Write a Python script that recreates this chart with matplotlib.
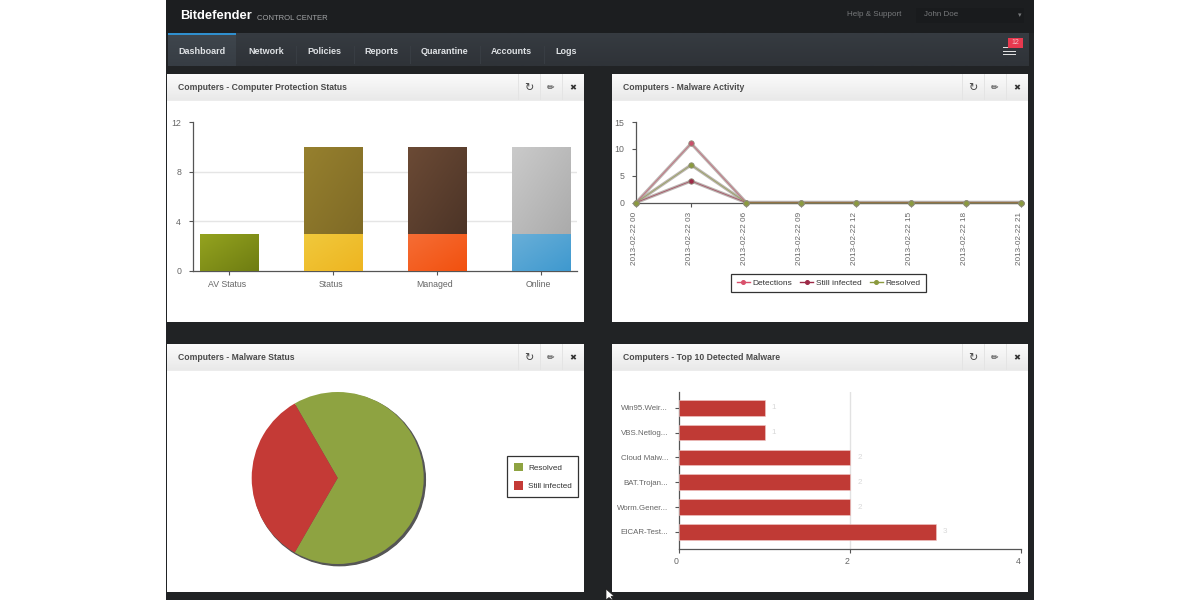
import numpy as np
import matplotlib
matplotlib.use("Agg")
import matplotlib.pyplot as plt
from matplotlib.patches import Rectangle, Polygon
from matplotlib.lines import Line2D
from matplotlib.transforms import ScaledTranslation

plt.rcParams['font.family'] = ['Liberation Sans', 'DejaVu Sans']

# ---- data ----
nav_items = ["Dashboard", "Network", "Policies", "Reports", "Quarantine", "Accounts", "Logs"]
panel_titles = ["Computers - Computer Protection Status", "Computers - Malware Activity",
                "Computers - Malware Status", "Computers - Top 10 Detected Malware"]

status_cats = ["AV Status", "Status", "Managed", "Online"]
status_lower = [3, 3, 3, 3]
status_upper = [0, 7, 7, 7]

time_labels = ["2013-02-22 00", "2013-02-22 03", "2013-02-22 06", "2013-02-22 09",
               "2013-02-22 12", "2013-02-22 15", "2013-02-22 18", "2013-02-22 21"]
detections = [0, 11, 0, 0, 0, 0, 0, 0]
still_infected = [0, 4, 0, 0, 0, 0, 0, 0]
resolved = [0, 7, 0, 0, 0, 0, 0, 0]

pie_labels = ["Resolved", "Still infected"]
pie_values = [2, 1]

malware_names = ["Win95.Weir...", "VBS.Netlog...", "Cloud Malw...", "BAT.Trojan...", "Worm.Gener...", "EICAR-Test..."]
malware_counts = [1, 1, 2, 2, 2, 3]

W, H = 1200, 600
fig = plt.figure(figsize=(12, 6), dpi=100, facecolor="white")

bg = fig.add_axes([0, 0, 1, 1], zorder=0)
bg.set_axis_off()


def rect(x0, y0, x1, y1, color, z=1, **kw):
    bg.add_patch(Rectangle((x0, y0), x1 - x0, y1 - y0, facecolor=color, edgecolor="none", zorder=z, **kw))


def vgrad(x0, y0, x1, y1, c_top, c_bot, z=2):
    a, b = np.array(matplotlib.colors.to_rgb(c_top)), np.array(matplotlib.colors.to_rgb(c_bot))
    t = np.linspace(0, 1, 32)[:, None, None]
    bg.imshow(a[None, None, :] * (1 - t) + b[None, None, :] * t, extent=(x0, x1, y1, y0),
              aspect="auto", zorder=z, interpolation="bilinear")


def axes_px(x0, y0, x1, y1):
    ax = fig.add_axes([x0 / W, 1 - y1 / H, (x1 - x0) / W, (y1 - y0) / H], zorder=5)
    ax.patch.set_alpha(0)
    return ax


def shift(labels, dx=0, dy=0):
    off = ScaledTranslation(dx / 100, dy / 100, fig.dpi_scale_trans)
    for l in labels:
        l.set_transform(l.get_transform() + off)


def diag_fill(ax, bar, c1, c2):
    x, y = bar.get_xy()
    w, h = bar.get_width(), bar.get_height()
    if h == 0:
        return
    a, b = np.array(matplotlib.colors.to_rgb(c1)), np.array(matplotlib.colors.to_rgb(c2))
    u, v = np.meshgrid(np.linspace(0, 1, 32), np.linspace(0, 1, 32))
    t = ((u + v) / 2)[..., None]
    im = ax.imshow(a * (1 - t) + b * t, extent=(x, x + w, y, y + h), origin="upper",
                   aspect="auto", zorder=bar.get_zorder() + 0.1, interpolation="bilinear")
    im.set_clip_path(bar)


# ---- page chrome ----
rect(166, 0, 1034, 600, "#212325", z=1)
rect(166, 0, 1034, 33, "#1c1e20", z=1.1)
vgrad(168, 33, 1029, 66, "#363b41", "#2f3338", z=2)
vgrad(168, 34, 236, 66, "#3f464d", "#373d44", z=2.1)
rect(168, 33, 236, 35, "#2f8fce", z=3)

bg.text(180, 16, "Bitdefender", color="white", fontsize=9.3, fontweight="bold", va="center", zorder=4)
bg.text(256.7, 18, "CONTROL CENTER", color="#a4a6a8", fontsize=5.5, va="center", zorder=4)
bg.text(847, 15, "Help & Support", color="#77797b", fontsize=5.8, va="center", zorder=4)
rect(916, 8, 1024, 23, "#191b1d", z=2)
bg.text(924, 15, "John Doe", color="#77797b", fontsize=5.8, va="center", zorder=4)
bg.text(1020, 15.5, "▾", color="#77797b", fontsize=5, va="center", ha="center", zorder=4)

nav_x = [178.5, 248, 307, 364, 421, 491, 555]
for name, x in zip(nav_items, nav_x):
    bg.text(x, 51, name, color="#dfe2e5", fontsize=6.5, fontweight="bold", va="center", zorder=4)
for x in (296, 354, 410, 480, 544):
    rect(x, 46, x + 1, 64, "#383d43", z=3)

for y in (47, 50.5, 54):
    rect(1003, y, 1016, y + 1.2, "#e0e0e0", z=4)
rect(1008, 38, 1023, 47.5, "#e8394f", z=5)
bg.text(1015.5, 43, "12", color="#f4c0c6", fontsize=5, ha="center", va="center", zorder=6)

panels = [(167, 74, 584, 322), (612, 74, 1028, 322), (167, 344, 584, 592), (612, 344, 1028, 592)]
for (x0, y0, x1, y1), title in zip(panels, panel_titles):
    rect(x0, y0, x1, y1, "white", z=2)
    vgrad(x0, y0, x1, y0 + 26, "#fbfbfb", "#e9e9e9", z=3)
    rect(x0, y0 + 26, x1, y0 + 27, "#ececec", z=3)
    bg.text(x0 + 10.7, y0 + 14, title, color="#4b4b4b", fontsize=6.25, fontweight="bold", va="center", zorder=4)
    for dx in (-66, -44, -22):
        rect(x1 + dx, y0, x1 + dx + 1, y0 + 26, "#e4e4e4", z=4)
    bg.text(x1 - 55, y0 + 14, "↻", color="#444444", fontsize=8, ha="center", va="center",
            family="DejaVu Sans", zorder=5)
    bg.text(x1 - 33.5, y0 + 14, "✏", color="#333333", fontsize=6.5, ha="center", va="center",
            family="DejaVu Sans", zorder=5)
    bg.text(x1 - 11.5, y0 + 14, "✖", color="#333333", fontsize=6, ha="center", va="center",
            family="DejaVu Sans", zorder=5)

bg.add_patch(Polygon([(606, 589), (606, 600), (609, 597.5), (612, 600), (613, 600), (611, 596.5), (614, 596)],
                     closed=True, facecolor="white", edgecolor="#222222", lw=0.5, zorder=8))
bg.set_xlim(0, W)
bg.set_ylim(H, 0)

TICK = "#555555"
LAB = "#666666"


def style(ax):
    for s in ("top", "right"):
        ax.spines[s].set_visible(False)
    for s in ("left", "bottom"):
        ax.spines[s].set_color(TICK)
        ax.spines[s].set_linewidth(0.9)
    ax.tick_params(colors=LAB, labelsize=6.3, length=3, width=0.8, color=TICK)


# ---- stacked bars ----
ax1 = axes_px(192.7, 122, 577, 271)
style(ax1)
x = np.arange(len(status_cats))
ax1.set_xlim(-0.346, 3.35)
ax1.set_ylim(0, 12)
ax1.set_xticks(x, status_cats)
ax1.set_yticks([0, 4, 8, 12])
ax1.yaxis.grid(True, color="#e5e5e5", lw=1)
ax1.set_axisbelow(True)
for i in (0, 3):
    ax1.get_ygridlines()[i].set_visible(False)
lo = ax1.bar(x, status_lower, width=0.558, color="#d0d0d0", zorder=3)
up = ax1.bar(x, status_upper, width=0.558, bottom=status_lower, color="#d0d0d0", zorder=3)
lo_cols = [("#94a31f", "#6f7d12"), ("#f0c93c", "#eeb521"), ("#f56d35", "#f2510f"), ("#69afd8", "#3f99cf")]
up_cols = [("#94a31f", "#6f7d12"), ("#96802e", "#7f6a26"), ("#6b4a35", "#4c3427"), ("#cacaca", "#ababab")]
for b, c in zip(lo, lo_cols):
    diag_fill(ax1, b, *c)
for b, c in zip(up, up_cols):
    diag_fill(ax1, b, *c)
ax1.set_xlim(-0.346, 3.35)
ax1.set_ylim(0, 12)
ax1.tick_params(axis="x", pad=3.4)
ax1.tick_params(axis="y", pad=5.4)
shift(ax1.get_xticklabels(), dx=-2)

# ---- line chart ----
ax2 = axes_px(636.2, 122, 1021, 202.5)
style(ax2)
t = np.arange(len(time_labels))
series = [(detections, "#c9506b"), (still_infected, "#9d2a47"), (resolved, "#8b9a3e")]
for vals, col in series:
    ax2.plot(t, vals, color="#b0a8a4", lw=2.3, alpha=0.85, zorder=3, clip_on=False, solid_capstyle="round")
for vals, col in series:
    ax2.plot(t, vals, color=col, lw=0.6, alpha=0.7, zorder=4, clip_on=False)
    ax2.plot(t, vals, ls="none", color=col, marker="o", ms=3.9, mec="#8f8f7c", mew=0.6, zorder=5, clip_on=False)
ax2.plot(t[2:], resolved[2:], color="#6f6f55", lw=1.3, zorder=3.5, clip_on=False)
ax2.set_xlim(0, 7)
ax2.set_ylim(0, 15)
ax2.set_xticks(t, time_labels, rotation=90)
ax2.set_yticks([0, 5, 10, 15])
ax2.tick_params(axis="x", pad=4, labelsize=5.9)
ax2.tick_params(axis="y", pad=5.4)
shift(ax2.get_xticklabels(), dx=-1.5)
handles = [Line2D([], [], color=c, lw=1, marker="o", ms=2.6) for c in ("#d9506b", "#9d2a47", "#8b9a3e")]
leg2 = ax2.legend(handles, ["Detections", "Still infected", "Resolved"], ncol=3, fancybox=False,
                  edgecolor="#333333", framealpha=1, fontsize=6.0, loc="center",
                  bbox_to_anchor=(828.5 / W, 1 - 283 / H), bbox_transform=fig.transFigure,
                  handlelength=1.6, columnspacing=0.95, handletextpad=0.3, borderpad=0.65, labelcolor="#333333")
leg2.get_frame().set_linewidth(0.9)

# ---- pie ----
ax3 = axes_px(337.7 - 86, 478 - 86, 337.7 + 86, 478 + 86)
wedges, _ = ax3.pie(pie_values, colors=["#8ea341", "#c43a36"], startangle=120, counterclock=False, radius=1,
                    shadow={"ox": 0.014, "oy": -0.014, "facecolor": "#555555", "edgecolor": "#555555", "alpha": 1},
                    wedgeprops={"edgecolor": "none"})
ax3.set_xlim(-1, 1)
ax3.set_ylim(-1, 1)
for w in ax3.patches:
    w.set_clip_on(False)
leg3 = ax3.legend(wedges, pie_labels, fancybox=False, edgecolor="#333333", framealpha=1, fontsize=5.9,
                  loc="center", bbox_to_anchor=(542.8 / W, 1 - 476.5 / H), bbox_transform=fig.transFigure,
                  handlelength=1.1, handleheight=1.2, handletextpad=0.6, labelspacing=1.15, borderpad=0.8,
                  labelcolor="#333333")
leg3.get_frame().set_linewidth(0.9)

# ---- horizontal bars ----
ax4 = axes_px(679.3, 392, 1021, 548.7)
style(ax4)
y = np.arange(len(malware_names))
ax4.set_xlim(0, 4)
ax4.set_xticks([0, 2, 4])
ax4.xaxis.grid(True, color="#e2e2e2", lw=1)
ax4.set_axisbelow(True)
for i in (0, 2):
    ax4.get_xgridlines()[i].set_visible(False)
bars4 = ax4.barh(y, malware_counts, height=0.633, color="#c03a35", edgecolor="#f0c8c6", lw=0.4, zorder=3)
for yi, v in zip(y, malware_counts):
    ax4.annotate(str(v), (v, yi), xytext=(5, 0), textcoords="offset points", color="#d8d8d8",
                 fontsize=5.8, va="center", ha="left")
ax4.set_ylim(5 + (548.7 - 532) / 24.85, -(407.7 - 392) / 24.85)
ax4.set_yticks(y, malware_names)
ax4.tick_params(axis="y", pad=5, labelsize=5.7)
ax4.tick_params(axis="x", pad=3)
shift(ax4.get_xticklabels(), dx=-3)

fig.savefig("out.png", dpi=100)
